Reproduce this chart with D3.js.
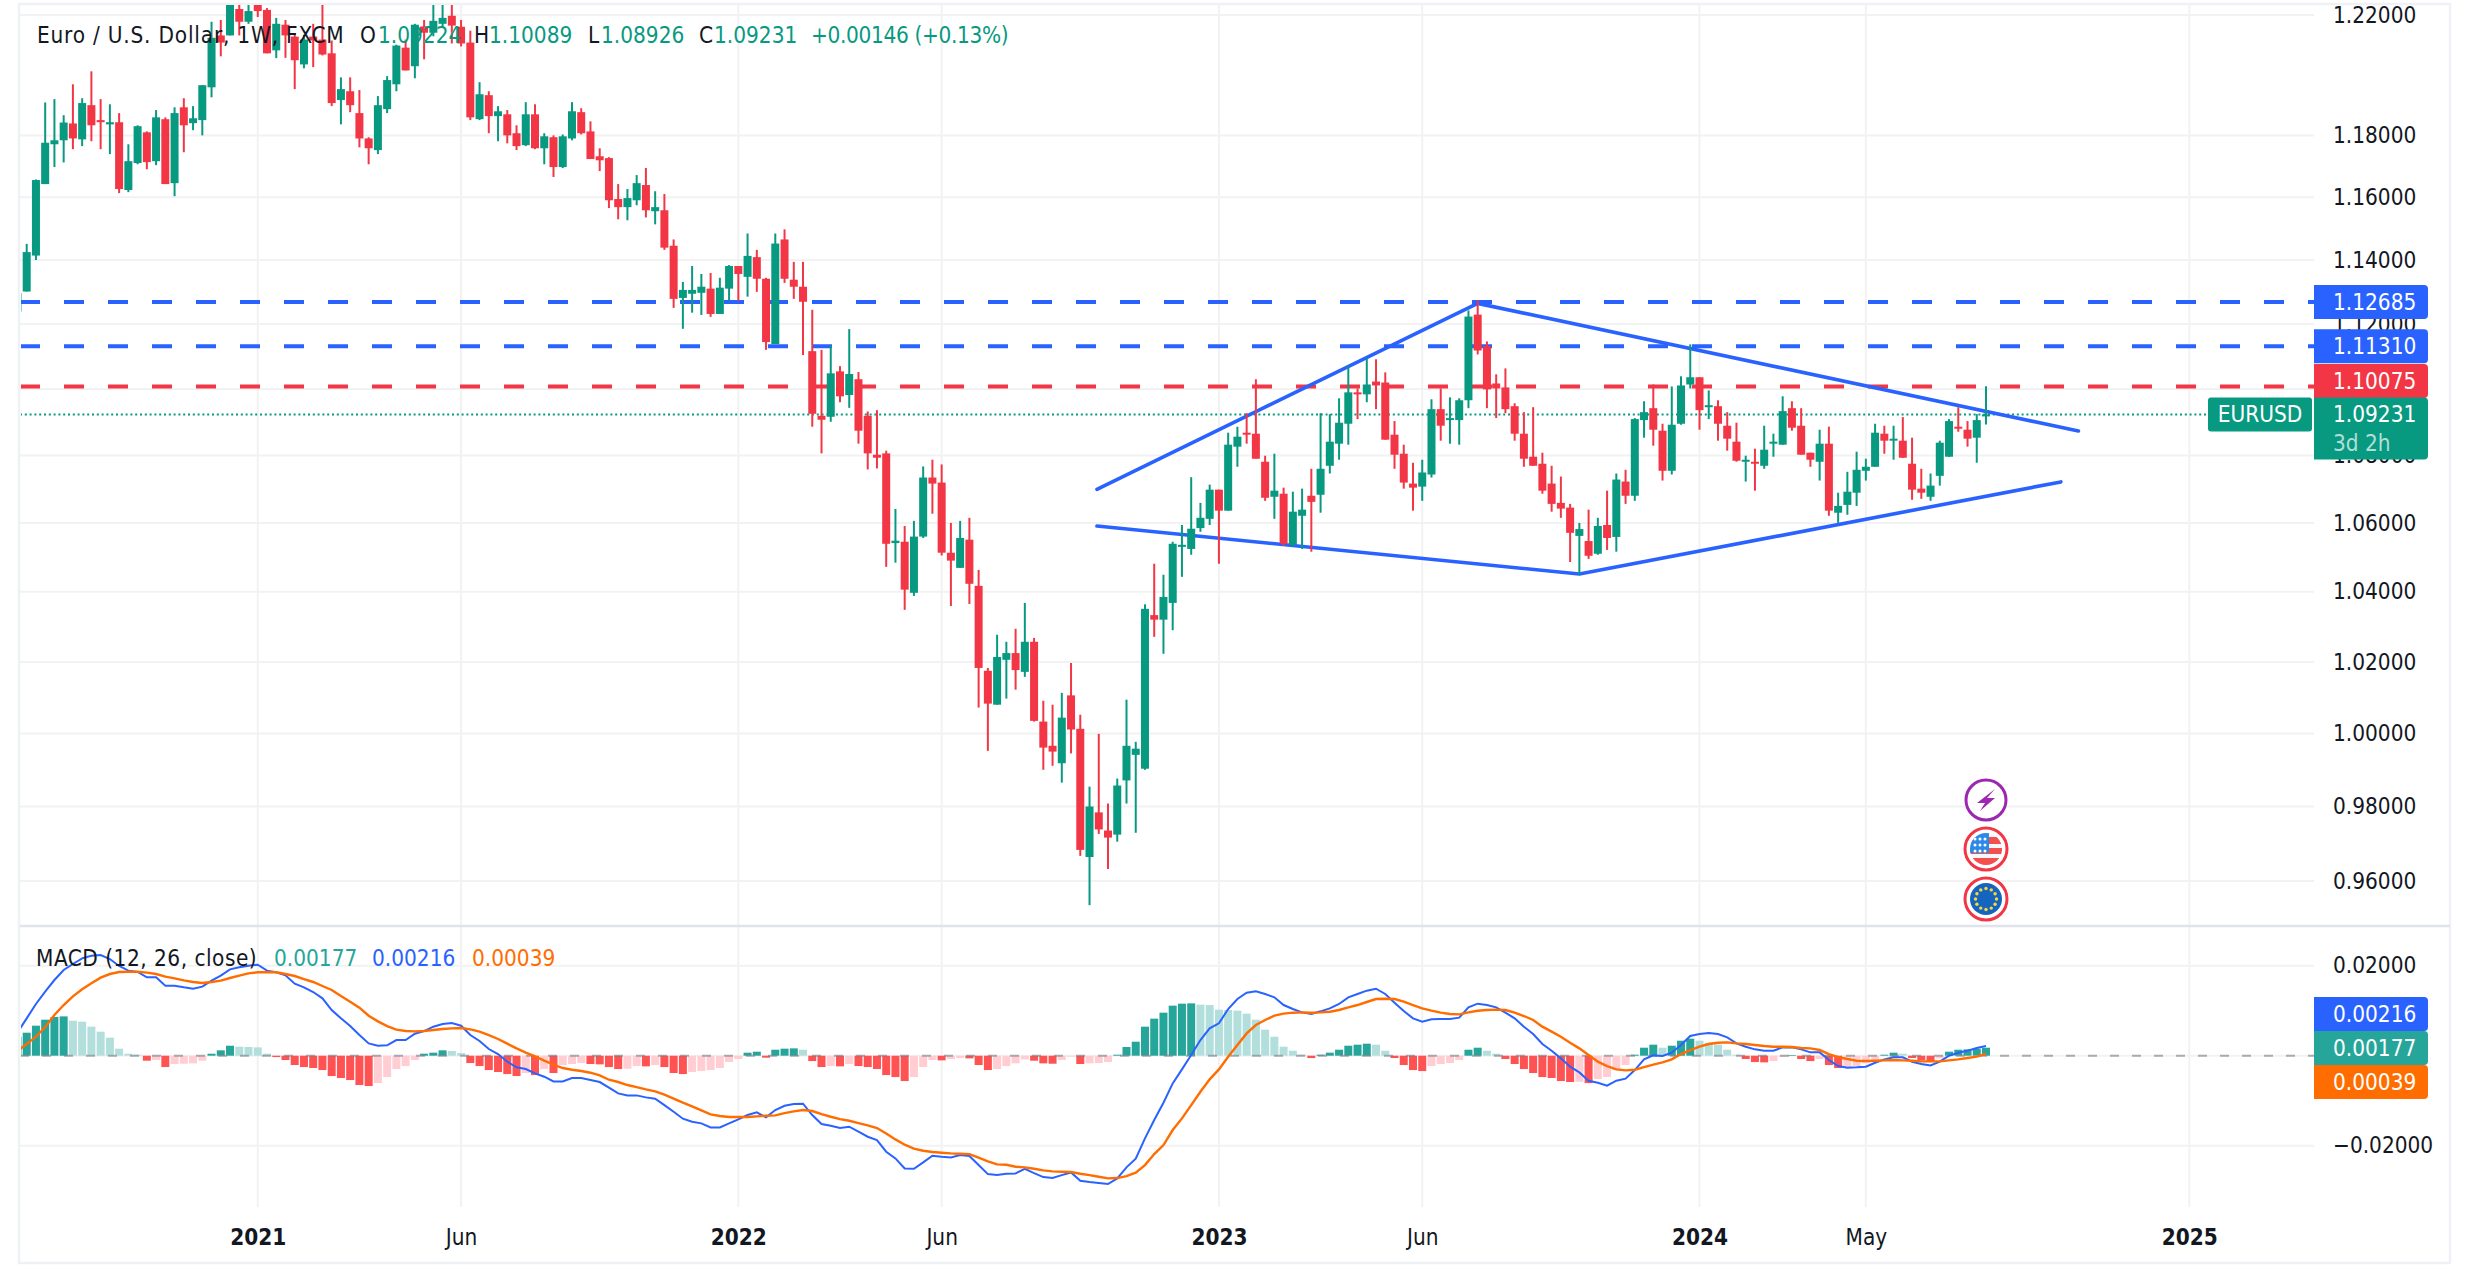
<!DOCTYPE html>
<html>
<head>
<meta charset="utf-8">
<script src="https://cdn.jsdelivr.net/npm/d3@7"></script>
<style>
  html, body { margin: 0; background: #fff; }
  svg { display: block; }
  text { font-family: "DejaVu Sans Condensed", "DejaVu Sans", sans-serif; font-stretch: condensed; }
</style>
</head>
<body>
<svg id="chart" width="2470" height="1269"></svg>
<script>
// weekly bars, one per week, oldest first
const opens = [1.1239,
  1.1301,1.1414,1.1642,1.1771,1.1784, 1.1839,1.1787,1.1899,1.1850,1.1836, 1.1843,1.1623,1.1710,1.1810,1.1716, 1.1853,1.1645,1.1892,1.1840,1.1850,
  1.1958,1.2131,1.2131,1.2220,1.2177, 1.2250,1.2217,1.2081,1.2167,1.2127, 1.2034,1.2127,1.2117,1.2071,1.1916, 1.1945,1.1873,1.1790,1.1752,1.1886,
  1.1968,1.2090,1.2028,1.2161,1.2140, 1.2170,1.2197,1.2160,1.2107,1.1853, 1.1932,1.1863,1.1869,1.1807,1.1768, 1.1869,1.1758,1.1794,1.1697,1.1790,
  1.1876,1.1813,1.1732,1.1726,1.1594, 1.1568,1.1590,1.1639,1.1555,1.1558, 1.1445,1.1281,1.1294,1.1297,1.1310, 1.1231,1.1310,1.1381,1.1347,1.1409,
  1.1341,1.1138,1.1465,1.1338,1.1316, 1.1116,1.0919,1.0916,1.1054,1.0982, 1.1030,1.0919,1.0802,1.0806,1.0541, 1.0545,1.0397,1.0560,1.0734,1.0719,
  1.0513,1.0469,1.0551,1.0417,1.0175, 1.0080,1.0206,1.0225,1.0172,1.0257, 1.0033,.9966,.9918,1.0106,1.0013, .9664,.9784,.9735,.9724,.9871,
  .9941,.9903,1.0333,1.0320,1.0368, 1.0530,1.0524,1.0585,1.0612,1.0698, 1.0636,1.0826,1.0868,1.0865,1.0781, 1.0677,1.0686,1.0536,1.0621,1.0680,
  1.0683,1.0769,1.0835,1.0895,1.0990, 1.0984,1.1023,1.1020,1.0862,1.0805, 1.0716,1.0707,1.0743,1.0939,1.0906, 1.0906,1.0966,1.1229,1.1131,1.1017,
  1.1005,1.0948,1.0865,1.0796,1.0775, 1.0716,1.0659,1.0645,1.0562,1.0547, 1.0510,1.0594,1.0559,1.0722,1.0680, 1.0906,1.0942,1.0874,1.0754,1.0895,
  1.1014,1.1036,1.0945,1.0948,1.0889, 1.0841,1.0781,1.0781,1.0769,1.0835, 1.0832,1.0942,1.0889,1.0808,1.0781, 1.0835,1.0630,1.0653,1.0689,1.0754,
  1.0766,1.0865,1.0844,1.0844,1.0775, 1.0701,1.0677,1.0739,1.0796,1.0886, 1.0877,1.0853,1.09224];
const highs = [1.1296,
  1.1451,1.1657,1.1908,1.1919,1.1866, 1.1968,1.1922,1.2011,1.1919,1.1902, 1.1873,1.1771,1.1833,1.1813,1.1883, 1.1859,1.1892,1.1922,1.1896,1.1965,
  1.2177,1.2183,1.2300,1.2270,1.2250, 1.2300,1.2223,1.2190,1.2183,1.2139, 1.2133,1.2170,1.2250,1.2114,1.1991, 1.1991,1.1949,1.1794,1.1929,1.1995,
  1.2100,1.2117,1.2170,1.2183,1.2250, 1.2250,1.2250,1.2183,1.2147,1.1975, 1.1945,1.1896,1.1883,1.1833,1.1909, 1.1902,1.1807,1.1800,1.1803,1.1909,
  1.1889,1.1846,1.1758,1.1729,1.1642, 1.1626,1.1671,1.1694,1.1619,1.1610, 1.1465,1.1331,1.1381,1.1356,1.1359, 1.1344,1.1384,1.1381,1.1484,1.1432,
  1.1344,1.1484,1.1497,1.1394,1.1394, 1.1244,1.1120,1.1133,1.1070,1.1184, 1.1052,1.0932,1.0936,1.0814,1.0641, 1.0591,1.0606,1.0767,1.0787,1.0773,
  1.0600,1.0606,1.0615,1.0463,1.0183, 1.0277,1.0257,1.0294,1.0368,1.0268, 1.0091,1.0080,1.0113,1.0197,1.0052, .9854,.9999,.9808,.9876,1.0094,
  .9977,1.0364,1.0481,1.0449,1.0545, 1.0594,1.0735,1.0659,1.0713,1.0698, 1.0868,1.0886,1.0927,1.1030,1.0799, 1.0805,1.0704,1.0692,1.0701,1.0760,
  1.0927,1.0924,1.0972,1.1072,1.1002, 1.1094,1.1091,1.1051,1.0903,1.0832, 1.0778,1.0787,1.0969,1.1002,1.0975, 1.0972,1.1242,1.1274,1.1146,1.1045,
  1.1063,1.0957,1.0930,1.0945,1.0808, 1.0769,1.0737,1.0656,1.0600,1.0639, 1.0615,1.0695,1.0746,1.0757,1.0912, 1.0963,1.1014,1.0895,1.1008,1.1039,
  1.1137,1.1036,1.0996,1.0966,1.0930, 1.0898,1.0799,1.0820,1.0889,1.0865, 1.0978,1.0963,1.0942,1.0808,1.0877, 1.0886,1.0689,1.0751,1.0811,1.0790,
  1.0895,1.0889,1.0889,1.0915,1.0853, 1.0760,1.0746,1.0844,1.0909,1.0945, 1.0903,1.0924,1.10089];
const lows = [1.1239,
  1.1301,1.1400,1.1642,1.1697,1.1712, 1.1755,1.1765,1.1781,1.1755,1.1739, 1.1613,1.1616,1.1706,1.1690,1.1703, 1.1642,1.1603,1.1745,1.1817,1.1800,
  1.1925,1.2061,1.2131,1.2131,1.2170, 1.2193,1.2071,1.2055,1.2056,1.1952, 1.2021,1.2025,1.2064,1.1896,1.1836, 1.1876,1.1761,1.1706,1.1739,1.1873,
  1.1945,1.2014,1.1988,1.2051,1.2128, 1.2157,1.2104,1.2094,1.1850,1.1850, 1.1807,1.1781,1.1774,1.1752,1.1765, 1.1755,1.1706,1.1665,1.1694,1.1784,
  1.1803,1.1723,1.1684,1.1565,1.1529, 1.1526,1.1574,1.1535,1.1513,1.1432, 1.1250,1.1185,1.1235,1.1228,1.1222, 1.1231,1.1272,1.1272,1.1285,1.1300,
  1.1120,1.1138,1.1328,1.1278,1.1104, 1.0886,1.0806,1.0901,1.0960,1.0943, 1.0835,1.0758,1.0761,1.0472,1.0484, 1.0348,1.0388,1.0556,1.0627,1.0505,
  1.0359,1.0469,1.0365,1.0072,.9952, 1.0080,1.0097,1.0122,1.0158,1.0033, .9900,.9911,.9865,.9945,.9667, .9536,.9726,.9632,.9705,.9808,
  .9729,.9900,1.0271,1.0223,1.0290, 1.0443,1.0507,1.0574,1.0594,1.0481, 1.0636,1.0766,1.0835,1.0790,1.0665, 1.0612,1.0533,1.0533,1.0524,1.0516,
  1.0630,1.0746,1.0787,1.0832,1.0909, 1.0960,1.0939,1.0847,1.0760,1.0701, 1.0636,1.0665,1.0734,1.0844,1.0835, 1.0832,1.0942,1.1106,1.0942,1.0912,
  1.0927,1.0844,1.0766,1.0769,1.0686, 1.0633,1.0615,1.0486,1.0449,1.0495, 1.0507,1.0521,1.0516,1.0656,1.0665, 1.0853,1.0829,1.0725,1.0743,1.0892,
  1.1002,1.0877,1.0909,1.0844,1.0814, 1.0781,1.0722,1.0695,1.0760,1.0796, 1.0832,1.0874,1.0802,1.0766,1.0725, 1.0621,1.0600,1.0624,1.0650,1.0725,
  1.0766,1.0805,1.0787,1.0793,1.0668, 1.0671,1.0665,1.0710,1.0796,1.0871, 1.0826,1.0778,1.08926];
const closes = [1.1296,
  1.1425,1.1655,1.1776,1.1784,1.1842, 1.1790,1.1906,1.1833,1.1843,1.1843, 1.1626,1.1716,1.1830,1.1713,1.1859, 1.1642,1.1873,1.1833,1.1856,1.1965,
  1.2123,1.2107,1.2265,1.2177,1.2213, 1.2213,1.2071,1.2170,1.2131,1.2048, 1.2117,1.2114,1.2067,1.1906,1.1952, 1.1899,1.1790,1.1758,1.1899,1.1982,
  1.2097,1.2014,1.2167,1.2140,1.2180, 1.2190,1.2164,1.2104,1.1859,1.1935, 1.1863,1.1879,1.1800,1.1765,1.1869, 1.1758,1.1797,1.1697,1.1797,1.1879,
  1.1807,1.1723,1.1719,1.1590,1.1568, 1.1597,1.1645,1.1558,1.1568,1.1439, 1.1278,1.1306,1.1306,1.1316,1.1231, 1.1313,1.1381,1.1356,1.1413,1.1341,
  1.1144,1.1452,1.1341,1.1316,1.1269, 1.0925,1.0907,1.1048,1.0978,1.1046, 1.0874,1.0806,1.0793,1.0539,1.0548, 1.0406,1.0560,1.0734,1.0716,1.0513,
  1.0490,1.0556,1.0423,1.0183,1.0083, 1.0214,1.0225,1.0177,1.0257,1.0035, .9961,.9950,1.0044,1.0011,.9683, .9800,.9738,.9716,.9857,.9966,
  .9958,1.0351,1.0320,1.0385,1.0539, 1.0536,1.0583,1.0615,1.0698,1.0636, 1.0832,1.0856,1.0862,1.0790,1.0674, 1.0695,1.0539,1.0633,1.0639,1.0662,
  1.0760,1.0841,1.0898,1.0990,1.0984, 1.1014,1.1011,1.0847,1.0802,1.0719, 1.0704,1.0749,1.0939,1.0889,1.0912, 1.0966,1.1223,1.1118,1.0999,1.1002,
  1.0939,1.0865,1.0790,1.0769,1.0695, 1.0656,1.0642,1.0571,1.0582,1.0504, 1.0591,1.0556,1.0728,1.0680,1.0909, 1.0930,1.0877,1.0754,1.0892,1.1011,
  1.1036,1.0936,1.0951,1.0895,1.0850, 1.0784,1.0787,1.0775,1.0817,1.0841, 1.0933,1.0883,1.0802,1.0787,1.0835, 1.0636,1.0650,1.0692,1.0757,1.0766,
  1.0868,1.0844,1.0850,1.0793,1.0698, 1.0689,1.0710,1.0838,1.0903,1.0880, 1.0850,1.0906,1.09231];

// MACD pane values, in units of 0.00001
const macdLine = [511,
  830,1149,1423,1682,1904, 2038,2164,2223,2238,2149, 1993,1890,1860,1741,1741, 1556,1556,1519,1489,1534,
  1667,1778,1919,1964,2001, 2023,1890,1853,1786,1601, 1519,1415,1275,1015,830, 659,459,274,222,230,
  348,348,489,548,645, 704,726,667,459,326, 148,37,-133,-259,-296, -393,-467,-571,-571,-496,
  -496,-541,-585,-711,-837, -882,-882,-926,-956,-1097, -1245,-1400,-1467,-1504,-1593, -1593,-1504,-1415,-1319,-1260,
  -1371,-1208,-1112,-1074,-1067, -1319,-1519,-1556,-1608,-1578, -1689,-1801,-1875,-2134,-2282, -2505,-2512,-2371,-2223,-2245,
  -2260,-2208,-2230,-2430,-2631, -2653,-2623,-2616,-2512,-2608, -2697,-2719,-2653,-2594,-2779, -2808,-2831,-2853,-2727,-2482,
  -2290,-1838,-1430,-1045,-615, -304,15,348,608,719, 1037,1260,1400,1430,1371, 1297,1126,1037,963,926,
  986,1052,1149,1297,1371, 1445,1489,1371,1178,993, 830,756,808,815,815, 845,1074,1156,1126,1074,
  956,830,645,482,259, 111,-59,-245,-371,-556, -600,-667,-556,-511,-319, -82,7,-7,67,237,
  437,482,504,482,408, 274,200,141,111,111, 185,185,141,74,74, -96,-230,-267,-259,-245,
  -156,-82,-37,-37,-133, -185,-215,-133,0,67, 111,170,216];
const signalLine = [111,
  259,422,637,904,1126, 1319,1475,1608,1734,1815, 1860,1867,1867,1845,1815, 1756,1719,1675,1638,1615,
  1638,1667,1727,1778,1830, 1853,1853,1853,1815,1771, 1704,1638,1549,1460,1326, 1200,1067,889,763,659,
  578,548,541,548,571, 593,608,615,585,534, 459,371,267,163,67, -15,-111,-200,-274,-311,
  -341,-378,-437,-534,-585, -652,-697,-748,-793,-867, -956,-1045,-1126,-1215,-1304, -1341,-1363,-1363,-1363,-1349,
  -1334,-1326,-1275,-1237,-1208, -1230,-1297,-1356,-1408,-1445, -1497,-1549,-1608,-1727,-1860, -1978,-2067,-2112,-2141,-2156,
  -2171,-2179,-2186,-2267,-2349, -2416,-2423,-2468,-2482,-2512, -2549,-2571,-2579,-2586,-2623, -2653,-2690,-2727,-2719,-2675,
  -2601,-2430,-2186,-1986,-1652, -1393,-1097,-800,-526,-304, -22,237,496,682,793, 889,934,956,963,956,
  963,978,1015,1074,1126, 1193,1260,1267,1260,1200, 1126,1052,1000,956,926, 919,963,1000,1015,1023,
  1015,956,882,793,645, 534,422,289,163,15, -133,-230,-304,-326,-311, -252,-200,-148,-82,37,
  126,200,259,289,296, 274,259,237,215,200, 200,193,170,163,126, 37,-30,-74,-111,-119,
  -111,-104,-96,-104,-111, -126,-126,-126,-104,-82, -52,-22,39];
const histogram = [420,
  511,667,800,860,874, 778,756,645,534,400, 156,44,22,-111,-96, -252,-185,-178,-170,-111,
  44,119,222,200,193, 185,44,-30,-96,-207, -252,-274,-319,-452,-496, -541,-652,-674,-608,-474,
  -296,-230,-96,44,67, 119,104,59,-163,-230, -319,-363,-408,-452,-385, -430,-296,-385,-207,-185,
  -163,-185,-193,-252,-296, -289,-230,-237,-207,-252, -385,-408,-363,-341,-319, -274,-141,-74,67,89,
  -44,133,156,163,133, -119,-252,-230,-237,-185, -230,-252,-296,-430,-474, -563,-474,-252,-96,-104,
  -74,-52,-59,-207,-319, -296,-230,-170,-82,-111, -170,-178,-96,-22,-185, -170,-163,-141,22,193,
  311,645,823,956,1112, 1156,1163,1134,1126,1023, 1015,1000,934,800,578, 422,200,111,22,-52,
  22,67,133,222,245, 267,245,111,-52,-207, -319,-341,-230,-185,-163, -96,133,178,111,44,
  -74,-185,-296,-385,-474, -496,-563,-585,-578,-608, -519,-474,-319,-207,22, 178,245,178,222,333,
  378,333,289,245,133, 22,-74,-141,-148,-119, -22,15,-74,-119,-74, -207,-274,-252,-230,-170,
  -96,22,67,44,-52, -96,-141,-59,89,133, 141,156,177];

// axes
const priceTicks = [1.22, 1.18, 1.16, 1.14, 1.12, 1.10, 1.08, 1.06, 1.04, 1.02, 1.00, 0.98, 0.96];
const macdTicks = [2000, 0, -2000];
const macdLabelTicks = [2000, -2000];
const timeLabels = ['2021', 'Jun', '2022', 'Jun', '2023', 'Jun', '2024', 'May', '2025'];
const timeWeeks = [26, 48, 78, 100, 130, 152, 182, 200, 235];

// horizontal levels and the two drawn wedges (week, price)
const levelPrices = [1.12685, 1.1131, 1.10075];
const levelLabels = ['1.12685', '1.11310', '1.10075'];
const upperWeeks = [116.8, 158, 223];
const upperPrices = [1.0699, 1.1264, 1.0873];
const lowerWeeks = [116.8, 169, 221.1];
const lowerPrices = [1.0591, 1.0451, 1.0721];
const lastPrice = 1.09231;

const UP = '#089981', DOWN = '#f23645', BLUE = '#2962ff', ORANGE = '#ff6d00', TEAL = '#26a69a';
const GRID = '#f2f2f3', INK = '#131722', BORDER = '#eff1f5';
const LEFT = 20, AXIS_X = 2314, TOP = 5, SPLIT = 926, BOTTOM = 1207, FRAME_R = 2450, FRAME_B = 1263;
const LABEL_X = 2333, FONT = 22.4;

const svg = d3.select('#chart');
const weeks = d3.range(opens.length);

const x = d3.scaleLinear().domain([1, 213]).range([26.7, 1986]);
const yPrice = d3.scaleLog().domain([0.96, 1.14]).range([881, 260]);
const yMacd = d3.scaleLinear().domain([-2000, 2000]).range([1145.7, 965.7]);

const defs = svg.append('defs');
defs.append('clipPath').attr('id', 'clip-price').append('rect')
  .attr('x', LEFT + 1).attr('y', TOP).attr('width', AXIS_X - LEFT - 1).attr('height', SPLIT - TOP);
defs.append('clipPath').attr('id', 'clip-macd').append('rect')
  .attr('x', LEFT + 1).attr('y', SPLIT).attr('width', AXIS_X - LEFT - 1).attr('height', BOTTOM - SPLIT);

// grid
const grid = svg.append('g').attr('stroke', GRID).attr('stroke-width', 2);
timeWeeks.forEach((w) => {
  grid.append('line').attr('x1', x(w)).attr('x2', x(w)).attr('y1', TOP).attr('y2', BOTTOM);
});
priceTicks.forEach((p) => {
  grid.append('line').attr('x1', LEFT).attr('x2', AXIS_X).attr('y1', yPrice(p)).attr('y2', yPrice(p));
});
macdTicks.forEach((v) => {
  grid.append('line').attr('x1', LEFT).attr('x2', AXIS_X).attr('y1', yMacd(v)).attr('y2', yMacd(v));
});

// frame
const frame = svg.append('g').attr('fill', 'none').attr('stroke', BORDER).attr('stroke-width', 2.5);
frame.append('rect').attr('x', LEFT - 1).attr('y', TOP - 1)
  .attr('width', FRAME_R - LEFT + 1).attr('height', FRAME_B - TOP + 1);
frame.append('line').attr('x1', LEFT).attr('x2', FRAME_R).attr('y1', SPLIT).attr('y2', SPLIT)
  .attr('stroke', '#e0e3eb');

// price pane
const pricePane = svg.append('g').attr('clip-path', 'url(#clip-price)');

levelPrices.forEach((p, i) => {
  pricePane.append('line')
    .attr('x1', LEFT).attr('x2', AXIS_X).attr('y1', yPrice(p)).attr('y2', yPrice(p))
    .attr('stroke', i < 2 ? BLUE : DOWN).attr('stroke-width', 4).attr('stroke-dasharray', '20 24');
});

pricePane.append('line')
  .attr('x1', LEFT).attr('x2', 2208).attr('y1', yPrice(lastPrice)).attr('y2', yPrice(lastPrice))
  .attr('stroke', UP).attr('stroke-width', 2).attr('stroke-dasharray', '2 2.8');

const wedge = d3.line().x((d) => x(d[0])).y((d) => yPrice(d[1]));
[[upperWeeks, upperPrices], [lowerWeeks, lowerPrices]].forEach(([ws, ps]) => {
  pricePane.append('path')
    .attr('d', wedge(ws.map((w, i) => [w, ps[i]])))
    .attr('fill', 'none').attr('stroke', BLUE).attr('stroke-width', 3.6)
    .attr('stroke-linecap', 'round').attr('stroke-linejoin', 'round');
});

const barColor = (i) => (closes[i] >= opens[i] ? UP : DOWN);
pricePane.append('g').selectAll('line').data(weeks).join('line')
  .attr('x1', (i) => x(i)).attr('x2', (i) => x(i))
  .attr('y1', (i) => yPrice(highs[i])).attr('y2', (i) => yPrice(lows[i]))
  .attr('stroke', barColor).attr('stroke-width', 2);
pricePane.append('g').selectAll('rect').data(weeks).join('rect')
  .attr('x', (i) => x(i) - 4).attr('width', 8)
  .attr('y', (i) => yPrice(Math.max(opens[i], closes[i])))
  .attr('height', (i) => Math.max(2, Math.abs(yPrice(opens[i]) - yPrice(closes[i]))))
  .attr('fill', barColor);

// macd pane
const macdPane = svg.append('g').attr('clip-path', 'url(#clip-macd)');
const histColor = (i) => {
  const v = histogram[i], prev = i > 0 ? histogram[i - 1] : 0;
  if (v >= 0) return v > prev ? TEAL : '#b2dfdb';
  return v < prev ? '#ff5252' : '#ffcdd2';
};
macdPane.append('g').selectAll('rect').data(weeks).join('rect')
  .attr('x', (i) => x(i) - 4).attr('width', 8)
  .attr('y', (i) => yMacd(Math.max(histogram[i], 0)))
  .attr('height', (i) => Math.abs(yMacd(histogram[i]) - yMacd(0)))
  .attr('fill', histColor);
macdPane.append('line')
  .attr('x1', LEFT).attr('x2', AXIS_X).attr('y1', yMacd(0)).attr('y2', yMacd(0))
  .attr('stroke', '#787b86').attr('stroke-opacity', 0.6).attr('stroke-width', 2)
  .attr('stroke-dasharray', '9 13');

const macdPath = d3.line().x((d, i) => x(i)).y((d) => yMacd(d));
macdPane.append('path').attr('d', macdPath(macdLine))
  .attr('fill', 'none').attr('stroke', BLUE).attr('stroke-width', 2);
macdPane.append('path').attr('d', macdPath(signalLine))
  .attr('fill', 'none').attr('stroke', ORANGE).attr('stroke-width', 2.4);

// axes
const styleAxis = (g) => {
  g.select('.domain').remove();
  g.attr('font-family', null).attr('font-size', null);
  g.selectAll('text').attr('font-size', FONT).attr('fill', INK);
};
svg.append('g').attr('transform', `translate(${LABEL_X},0)`)
  .call(d3.axisRight(yPrice).tickValues(priceTicks).tickFormat(d3.format('.5f')).tickSize(0).tickPadding(0))
  .call(styleAxis);
svg.append('g').attr('transform', `translate(${LABEL_X},0)`)
  .call(d3.axisRight(yMacd).tickValues(macdLabelTicks).tickFormat((v) => d3.format('.5f')(v / 1e5)).tickSize(0).tickPadding(0))
  .call(styleAxis);
svg.append('g').attr('transform', `translate(0,${BOTTOM})`)
  .call(d3.axisBottom(x).tickValues(timeWeeks).tickFormat((w, i) => timeLabels[i]).tickSize(0).tickPadding(22))
  .call(styleAxis)
  .selectAll('text').attr('font-weight', (d, i) => (/^\d/.test(timeLabels[i]) ? 700 : 400));

// scale labels
function tag(g, x0, x1, y0, y1, fill) {
  const r = 4;
  g.append('path')
    .attr('d', `M${x0},${y0}H${x1 - r}Q${x1},${y0} ${x1},${y0 + r}V${y1 - r}Q${x1},${y1} ${x1 - r},${y1}H${x0}Z`)
    .attr('fill', fill);
}
function tagText(g, str, tx, ty, fill, opacity) {
  g.append('text').attr('x', tx).attr('y', ty).attr('dy', '.36em')
    .attr('font-size', FONT).attr('fill', fill).attr('fill-opacity', opacity || 1).text(str);
}
const tags = svg.append('g');
const tagH = 34;
levelPrices.forEach((p, i) => {
  const cy = yPrice(p) + (i === 2 ? -5.6 : 0);
  tag(tags, AXIS_X, 2428, cy - tagH / 2, cy + tagH / 2, i < 2 ? BLUE : DOWN);
  tagText(tags, levelLabels[i], LABEL_X, cy, '#fff');
});
const lastY = yPrice(lastPrice);
tag(tags, AXIS_X, 2428, lastY - 17, lastY + 45, UP);
tagText(tags, '1.09231', LABEL_X, lastY, '#fff');
tagText(tags, '3d 2h', LABEL_X, lastY + 29, '#fff', 0.7);
tags.append('rect').attr('x', 2208).attr('y', lastY - 17).attr('width', 104).attr('height', 34).attr('rx', 3).attr('fill', UP);
tags.append('text').attr('x', 2260).attr('y', lastY).attr('dy', '.36em').attr('text-anchor', 'middle')
  .attr('font-size', FONT).attr('fill', '#fff').text('EURUSD');

[['0.00216', BLUE, 1014], ['0.00177', TEAL, 1048], ['0.00039', ORANGE, 1082]].forEach(([str, fill, cy]) => {
  tag(tags, AXIS_X, 2428, cy - tagH / 2, cy + tagH / 2, fill);
  tagText(tags, str, LABEL_X, cy, '#fff');
});

// legends
const legend = svg.append('g').attr('font-size', FONT);
const legendText = (str, tx, ty, fill, spacing) =>
  legend.append('text').attr('x', tx).attr('y', ty).attr('dy', '.36em').attr('fill', fill)
    .attr('letter-spacing', spacing || 0).text(str);
legendText('Euro / U.S. Dollar, 1W, FXCM', 37, 35, INK, 0.8);
[['O', '1.09224', 360, 378], ['H', '1.10089', 474, 489], ['L', '1.08926', 588, 601], ['C', '1.09231', 699, 714]]
  .forEach(([k, v, kx, vx]) => {
    legendText(k, kx, 35, INK);
    legendText(v, vx, 35, UP);
  });
legendText('+0.00146 (+0.13%)', 811, 35, UP, -0.35);
legendText('MACD (12, 26, close)', 36, 958, INK, 0.5);
legendText('0.00177', 274, 958, TEAL);
legendText('0.00216', 372, 958, BLUE);
legendText('0.00039', 472, 958, ORANGE);

// event markers on the last bar
const cx = x(213);
const marks = svg.append('g');
const bolt = marks.append('g').attr('transform', `translate(${cx},800)`);
bolt.append('circle').attr('r', 20).attr('fill', '#fff').attr('stroke', '#9c27b0').attr('stroke-width', 3);
bolt.append('path').attr('d', 'M9,-11 L-9,3 L-1,3 L-6,11 L9,-2 L1,-2 Z').attr('fill', '#9c27b0');

defs.append('clipPath').attr('id', 'flag-clip').append('circle').attr('r', 16);
const us = marks.append('g').attr('transform', `translate(${cx},849)`);
us.append('circle').attr('r', 21).attr('fill', '#fff').attr('stroke', DOWN).attr('stroke-width', 3);
const usFlag = us.append('g').attr('clip-path', 'url(#flag-clip)');
usFlag.append('rect').attr('x', -16).attr('y', -16).attr('width', 32).attr('height', 32).attr('fill', '#f5f7fb');
usFlag.append('rect').attr('x', -16).attr('y', -12).attr('width', 32).attr('height', 7).attr('fill', '#f44f50');
usFlag.append('rect').attr('x', -16).attr('y', -1).attr('width', 32).attr('height', 6).attr('fill', '#f44f50');
usFlag.append('rect').attr('x', -16).attr('y', 9).attr('width', 32).attr('height', 8).attr('fill', '#f44f50');
usFlag.append('rect').attr('x', -16).attr('y', -16).attr('width', 19).attr('height', 20).attr('fill', '#2b8ae6');
d3.range(3).forEach((r) => d3.range(3).forEach((c) => {
  usFlag.append('circle').attr('cx', -11 + c * 5).attr('cy', -10 + r * 6).attr('r', 1.5).attr('fill', '#fff');
}));

const eu = marks.append('g').attr('transform', `translate(${cx},899)`);
eu.append('circle').attr('r', 21).attr('fill', '#fff').attr('stroke', DOWN).attr('stroke-width', 3);
eu.append('circle').attr('r', 16).attr('fill', '#1565c0');
d3.range(12).forEach((k) => {
  const a = k * Math.PI / 6;
  eu.append('circle').attr('cx', 10.5 * Math.cos(a)).attr('cy', 10.5 * Math.sin(a)).attr('r', 1.7).attr('fill', '#fdd835');
});
</script>
</body>
</html>
